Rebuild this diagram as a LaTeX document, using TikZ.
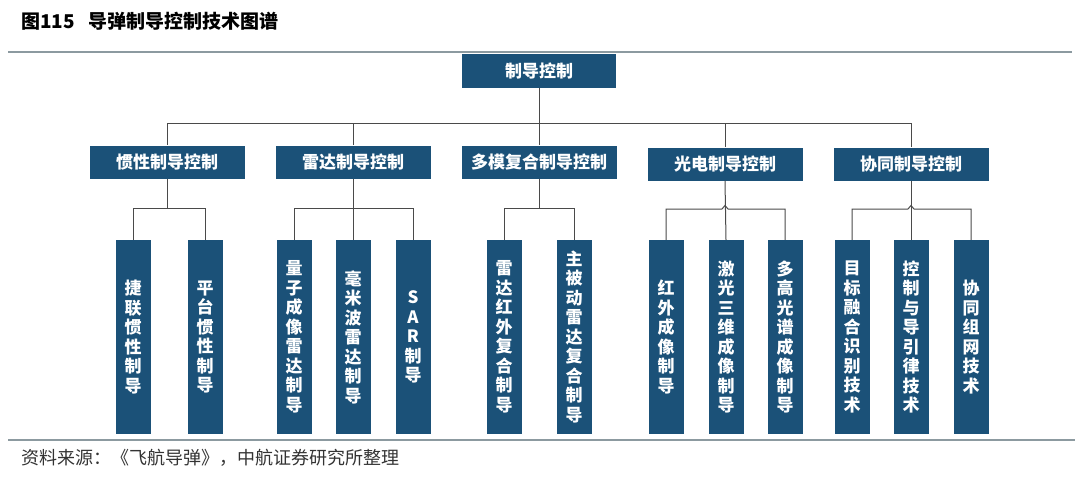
\documentclass[tikz,border=0pt]{standalone}
\usepackage{fontspec}
\setmainfont{Noto Sans CJK SC}
\definecolor{boxblue}{HTML}{1B5178}
\definecolor{rulegray}{HTML}{8C9AA0}
\definecolor{linkgray}{HTML}{4A4A4A}
\begin{document}
\begin{tikzpicture}[x=1pt, y=-1pt,
    rootbox/.style={rectangle, fill=boxblue, text=white, minimum width=154pt, minimum height=34pt, inner sep=0pt, font=\fontsize{17}{20}\selectfont\bfseries},
    catbox/.style={rectangle, fill=boxblue, text=white, minimum width=155pt, minimum height=33pt, inner sep=0pt, font=\fontsize{17}{20}\selectfont\bfseries},
    leafbox/.style={rectangle, fill=boxblue, text=white, minimum width=35pt, minimum height=194pt, inner sep=0pt, align=center, font=\fontsize{17}{19.5}\selectfont\bfseries},
    link/.style={draw=linkgray, line width=1pt},
    rule/.style={draw=rulegray, line width=1.8pt}
]
\useasboundingbox (0,0) rectangle (1080,479);

% Title and rules
\node[anchor=west, inner sep=0pt, font=\fontsize{19}{22}\selectfont\bfseries] (title) at (21,21) {图115\hspace{14pt}导弹制导控制技术图谱};
\draw[rule] (8,52) -- (1072,52);
\draw[rule] (8,440) -- (1075,440);
\node[anchor=west, inner sep=0pt, text=black!80, font=\fontsize{18}{21}\selectfont] (source) at (21,458) {资料来源：《飞航导弹》，中航证券研究所整理};

% Root
\node[rootbox] (root) at (539,71) {制导控制};

% Categories
\node[catbox] (inert) at (167,162) {惯性制导控制};
\node[catbox] (radar) at (353,162) {雷达制导控制};
\node[catbox] (multi) at (539,162) {多模复合制导控制};
\node[catbox] (optic) at (725,164) {光电制导控制};
\node[catbox] (coop) at (911,164) {协同制导控制};

% Leaves
\node[leafbox] (strap) at (133,337) {捷\\联\\惯\\性\\制\\导};
\node[leafbox] (platf) at (205,337) {平\\台\\惯\\性\\制\\导};
\node[leafbox] (qradar) at (294,337) {量\\子\\成\\像\\雷\\达\\制\\导};
\node[leafbox] (mmw) at (353,337) {毫\\米\\波\\雷\\达\\制\\导};
\node[leafbox] (sar) at (413,337) {S\\A\\R\\制\\导};
\node[leafbox] (radir) at (504,337) {雷\\达\\红\\外\\复\\合\\制\\导};
\node[leafbox] (actpas) at (574,337) {主\\被\\动\\雷\\达\\复\\合\\制\\导};
\node[leafbox] (irimg) at (666,337) {红\\外\\成\\像\\制\\导};
\node[leafbox] (laser) at (726,337) {激\\光\\三\\维\\成\\像\\制\\导};
\node[leafbox] (hyper) at (785,337) {多\\高\\光\\谱\\成\\像\\制\\导};
\node[leafbox] (fusion) at (852,337) {目\\标\\融\\合\\识\\别\\技\\术};
\node[leafbox] (law) at (911,337) {控\\制\\与\\导\\引\\律\\技\\术};
\node[leafbox] (net) at (971,337) {协\\同\\组\\网\\技\\术};

% Root to categories
\coordinate (topbus) at (539,123);
\draw[link] (root.south) -- (topbus);
\draw[link] (topbus) -| (inert.north);
\draw[link] (topbus) -| (radar.north);
\draw[link] (topbus) -- (multi.north);
\draw[link] (topbus) -| (optic.north);
\draw[link] (topbus) -| (coop.north);

% Inertial
\coordinate (inertbus) at (167,208);
\draw[link] (inert.south) -- (inertbus);
\draw[link] (inertbus) -| (strap.north);
\draw[link] (inertbus) -| (platf.north);

% Radar
\coordinate (radarbus) at (353,208);
\draw[link] (radar.south) -- (mmw.north);
\draw[link] (radarbus) -| (qradar.north);
\draw[link] (radarbus) -| (sar.north);

% Multi-mode
\coordinate (multibus) at (539,208);
\draw[link] (multi.south) -- (multibus);
\draw[link] (multibus) -| (radir.north);
\draw[link] (multibus) -| (actpas.north);

% Electro-optical
\coordinate (opticbus) at (725,209);
\draw[link] (optic.south) -- (laser.north);
\draw[link] (irimg.north) |- ([xshift=-3pt]opticbus) -- ([yshift=3.5pt]opticbus) -- ([xshift=3pt]opticbus) -| (hyper.north);

% Cooperative
\coordinate (coopbus) at (911,209);
\draw[link] (coop.south) -- (law.north);
\draw[link] (fusion.north) |- ([xshift=-3pt]coopbus) -- ([yshift=3.5pt]coopbus) -- ([xshift=3pt]coopbus) -| (net.north);

\end{tikzpicture}
\end{document}
